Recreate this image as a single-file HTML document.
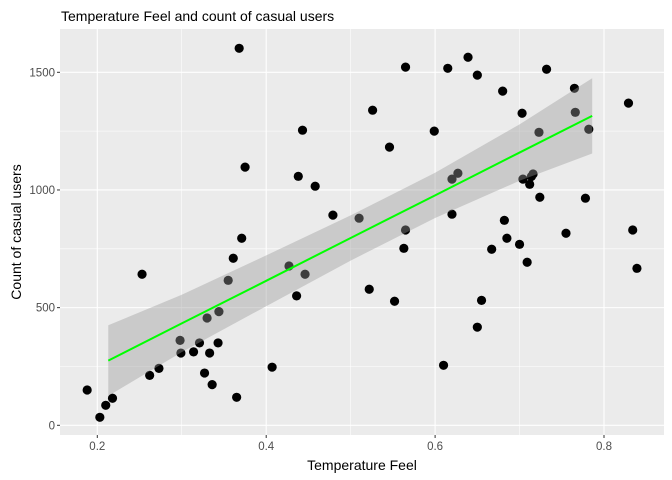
<!DOCTYPE html>
<html><head><meta charset="utf-8"><style>
body{margin:0;background:#fff;}
svg{display:block;font-family:"Liberation Sans",Arial,sans-serif;}
</style></head><body>
<svg id="chart" width="672" height="480">
<text x="61" y="21" font-size="14" fill="#000">Temperature Feel and count of casual users</text>
<rect x="60" y="29" width="604" height="406" fill="#EBEBEB"/>
<g id="grid"></g><g id="pts"></g><g id="band"></g><g id="axes"></g>
<text x="362" y="470" font-size="14" text-anchor="middle" fill="#000">Temperature Feel</text>
<text transform="translate(21,232) rotate(-90)" font-size="14" text-anchor="middle" fill="#000">Count of casual users</text>
</svg>
<script>
const tempX=[0.188,0.203,0.210,0.218,0.253,0.262,0.273,0.298,0.299,0.314,0.321,0.327,0.330,0.333,0.336,0.343,0.344,0.355,0.361,0.365,0.368,0.371,0.375,0.407,0.427,0.436,0.438,0.443,0.446,0.458,0.479,0.510,0.522,0.526,0.546,0.552,0.563,0.565,0.565,0.599,0.610,0.615,0.620,0.620,0.627,0.639,0.650,0.650,0.655,0.667,0.680,0.682,0.685,0.700,0.703,0.704,0.709,0.712,0.714,0.716,0.723,0.724,0.732,0.755,0.765,0.766,0.778,0.782,0.829,0.834,0.839];
const casualY=[150,34,85,115,642,212,242,361,307,312,350,222,456,307,173,350,483,616,710,119,1602,795,1097,247,677,550,1058,1254,642,1016,893,880,578,1339,1182,527,752,830,1522,1250,255,1517,1046,897,1071,1564,1488,417,531,748,1420,871,795,769,1326,1046,693,1024,1057,1068,1245,969,1513,816,1432,1330,965,1258,1369,830,667];
const fitX=[0.213,0.3,0.4,0.5,0.6,0.7,0.786];
const fitY=[275,433,614,796,977,1159,1315];
const fitHalf=[150,122,108,96,96,120,160];
const xTicks=[0.2,0.4,0.6,0.8];
const xMinor=[0.3,0.5,0.7];
const yTicks=[0,500,1000,1500];
const yMinor=[250,750,1250];
const NS="http://www.w3.org/2000/svg";
const L=60,R=664,T=29,B=435;
const sx=v=>97.3+(v-0.2)*844.5;
const sy=v=>425.3-v*0.23533;
function mk(tag,attrs,parent){const e=document.createElementNS(NS,tag);for(const k in attrs)e.setAttribute(k,attrs[k]);parent.appendChild(e);return e;}
const grid=document.getElementById('grid'),axes=document.getElementById('axes');
xMinor.forEach(v=>{const l=mk('line',{x1:sx(v),x2:sx(v),y1:T,y2:B,stroke:'#fff','stroke-width':0.55},grid);

});
yMinor.forEach(v=>{const l=mk('line',{x1:L,x2:R,y1:sy(v),y2:sy(v),stroke:'#fff','stroke-width':0.55},grid);

});
xTicks.forEach(v=>{const l=mk('line',{x1:sx(v),x2:sx(v),y1:T,y2:B,stroke:'#fff','stroke-width':1.1},grid);


const t=mk('line',{x1:sx(v),x2:sx(v),y1:B,y2:B+3,stroke:'#333','stroke-width':1},axes);


const tx=mk('text',{x:sx(v),y:B+15,'font-size':11.5,'text-anchor':'middle',fill:'#4D4D4D'},axes);tx.textContent=String(v);

});
yTicks.forEach(v=>{const l=mk('line',{x1:L,x2:R,y1:sy(v),y2:sy(v),stroke:'#fff','stroke-width':1.1},grid);


const t=mk('line',{x1:L-3,x2:L,y1:sy(v),y2:sy(v),stroke:'#333','stroke-width':1},axes);


const tx=mk('text',{x:L-5,y:sy(v)+4,'font-size':11.5,'text-anchor':'end',fill:'#4D4D4D'},axes);tx.textContent=String(v);

});
const pts=document.getElementById('pts');
tempX.forEach((v,i)=>{const c=mk('circle',{cx:sx(v),cy:sy(casualY[i]),r:4.6,fill:'#000'},pts);

});
const band=document.getElementById('band');
let d='';fitX.forEach((v,i)=>{d+=(i?'L':'M')+sx(v)+','+sy(fitY[i]+fitHalf[i]);});
for(let i=fitX.length-1;i>=0;i--){d+='L'+sx(fitX[i])+','+sy(fitY[i]-fitHalf[i]);}
d+='Z';
const p=mk('path',{d:d,fill:'#999',opacity:0.4},band);


const ln=mk('polyline',{points:fitX.map((v,i)=>sx(v)+','+sy(fitY[i])).join(' '),fill:'none',stroke:'#00FF00','stroke-width':2},band);


</script>
</body></html>
